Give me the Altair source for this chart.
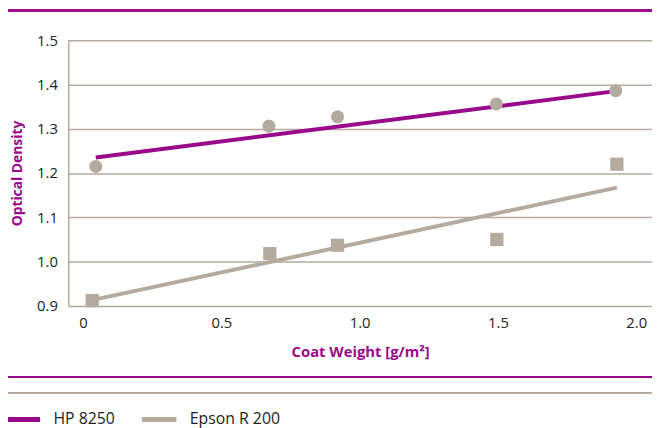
import altair as alt
import pandas as pd

# ---- data ----
coat_hp = [0.046, 0.672, 0.920, 1.494, 1.926]
od_hp = [1.215, 1.306, 1.327, 1.356, 1.386]
coat_ep = [0.033, 0.675, 0.920, 1.496, 1.930]
od_ep = [0.912, 1.018, 1.037, 1.050, 1.220]
trend_x_hp = [0.046, 1.926]
trend_y_hp = [1.235, 1.385]
trend_x_ep = [0.033, 1.930]
trend_y_ep = [0.913, 1.167]
series = ["HP 8250", "Epson R 200"]
x_ticks = [0, 0.5, 1.0, 1.5, 2.0]
y_ticks = [0.9, 1.0, 1.1, 1.2, 1.3, 1.4, 1.5]

MAGENTA = "#990a8a"
GRAY = "#b4aa9e"
FONT = "Open Sans"

W, H = 591, 269

pts_hp = pd.DataFrame({"x": coat_hp, "y": od_hp})
pts_ep = pd.DataFrame({"x": coat_ep, "y": od_ep})
trend = pd.DataFrame({
    "x": trend_x_hp + trend_x_ep,
    "y": trend_y_hp + trend_y_ep,
    "series": [series[0]] * 2 + [series[1]] * 2,
})

xscale = alt.Scale(domain=[-0.0536, 2.057], nice=False, zero=False)
yscale = alt.Scale(domain=[0.9, 1.5], nice=False, zero=False)

xaxis = alt.Axis(
    values=x_ticks, grid=False, ticks=False, domain=False,
    labelExpr="datum.value == 0 ? '0' : format(datum.value, '.1f')",
    labelFontSize=15, labelFont=FONT, labelColor="#222222", labelPadding=10,
    title="Coat Weight [g/m²]", titleFont=FONT, titleFontSize=15,
    titleFontWeight="bold", titleColor=MAGENTA, titleY=46, titleBaseline="middle",
)
yaxis = alt.Axis(
    values=y_ticks, grid=True, gridColor=GRAY, gridWidth=1.5, gridOpacity=1,
    ticks=False, domain=True, domainColor=GRAY, domainWidth=1.5,
    format=".1f", labelFontSize=15, labelFont=FONT, labelColor="#222222",
    labelPadding=11,
    title="Optical Density", titleFont=FONT, titleFontSize=14,
    titleFontWeight="bold", titleColor=MAGENTA, titleAngle=270,
    titleX=-51, titleY=H / 2, titleAlign="center", titleBaseline="middle",
)

lines = alt.Chart(trend).mark_line(strokeWidth=4).encode(
    x=alt.X("x:Q", scale=xscale, axis=xaxis),
    y=alt.Y("y:Q", scale=yscale, axis=yaxis),
    color=alt.Color(
        "series:N",
        scale=alt.Scale(domain=series, range=[MAGENTA, GRAY]),
        sort=series,
        legend=alt.Legend(
            title=None, orient="none", direction="horizontal",
            legendX=-66, legendY=364,
            symbolType="stroke", symbolSize=1225, symbolStrokeWidth=5,
            labelFont=FONT, labelFontSize=16, labelColor="#222222",
            labelOffset=11, columnPadding=16,
        ),
    ),
    detail="series:N",
)

circles = alt.Chart(pts_hp).mark_circle(size=175, color=GRAY, opacity=1).encode(
    x=alt.X("x:Q", scale=xscale), y=alt.Y("y:Q", scale=yscale)
)
squares = alt.Chart(pts_ep).mark_square(size=180, color=GRAY, opacity=1).encode(
    x=alt.X("x:Q", scale=xscale), y=alt.Y("y:Q", scale=yscale)
)

top_rule = alt.Chart(pts_hp).mark_rule(color=MAGENTA, strokeWidth=2).encode(
    x=alt.value(-63), x2=alt.value(W), y=alt.value(-30)
)
bot_rule1 = alt.Chart(pts_hp).mark_rule(color=MAGENTA, strokeWidth=1.5).encode(
    x=alt.value(-61), x2=alt.value(W), y=alt.value(341)
)
bot_rule2 = alt.Chart(pts_hp).mark_rule(color=GRAY, strokeWidth=1.5).encode(
    x=alt.value(-61), x2=alt.value(W), y=alt.value(357)
)

chart = alt.layer(lines, circles, squares, top_rule, bot_rule1, bot_rule2).properties(
    width=W, height=H,
    autosize=alt.AutoSizeParams(type="none"),
    padding={"left": 61, "top": 30, "right": 0, "bottom": 121},
).configure_view(stroke=None).configure(background="white")

chart.save("out.html", embed_options={"renderer": "svg", "actions": False})
